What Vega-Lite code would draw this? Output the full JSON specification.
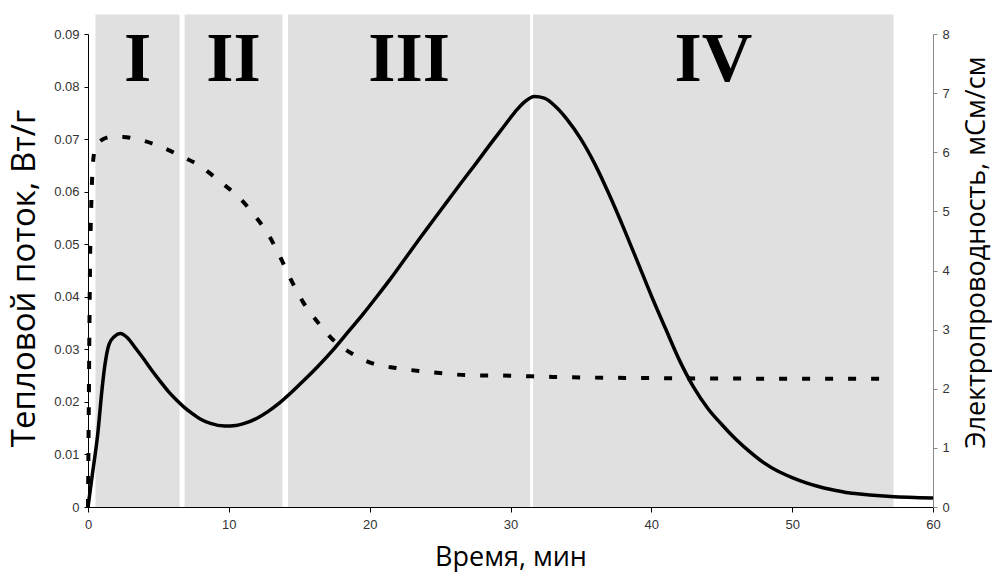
{
  "$schema": "https://vega.github.io/schema/vega-lite/v6.json",
  "width": 845,
  "height": 473,
  "autosize": {"type": "none"},
  "padding": {"left": 88, "top": 34, "right": 59, "bottom": 65},
  "background": "white",
  "config": {
    "view": {"stroke": null},
    "font": "Liberation Sans",
    "axis": {"grid": false, "labelFlush": false, "labelFont": "Liberation Sans", "labelFontSize": 13, "labelColor": "#333333", "titleFont": "Open Sans", "titleFontWeight": "normal", "titleColor": "#000000", "titleFontSize": 28}
  },
  "datasets": {
    "regions": [
      {"start": 0.53, "end": 6.5, "label": "I"},
      {"start": 6.86, "end": 13.8, "label": "II"},
      {"start": 14.2, "end": 31.4, "label": "III"},
      {"start": 31.6, "end": 57.2, "label": "IV"}
    ],
    "heat": [
      {"t": 0, "q": 0}, {"t": 0.3, "q": 0.006}, {"t": 0.7, "q": 0.0141}, {"t": 1.0, "q": 0.0225},
      {"t": 1.2, "q": 0.027}, {"t": 1.5, "q": 0.031}, {"t": 1.9, "q": 0.0325}, {"t": 2.3, "q": 0.033},
      {"t": 2.8, "q": 0.0322}, {"t": 3.3, "q": 0.0305}, {"t": 4.0, "q": 0.028}, {"t": 4.5, "q": 0.0261},
      {"t": 5.1, "q": 0.024}, {"t": 5.7, "q": 0.022}, {"t": 6.3, "q": 0.0203}, {"t": 6.9, "q": 0.0188},
      {"t": 7.5, "q": 0.0176}, {"t": 8.0, "q": 0.0167}, {"t": 8.7, "q": 0.0159}, {"t": 9.7, "q": 0.0154},
      {"t": 10.5, "q": 0.0155}, {"t": 11.1, "q": 0.0159}, {"t": 12.0, "q": 0.0169}, {"t": 12.8, "q": 0.0182},
      {"t": 13.6, "q": 0.0198}, {"t": 14.4, "q": 0.0217}, {"t": 15.3, "q": 0.024}, {"t": 16.3, "q": 0.0267},
      {"t": 17.5, "q": 0.0302}, {"t": 18.5, "q": 0.0334}, {"t": 19.5, "q": 0.0366}, {"t": 20.5, "q": 0.04},
      {"t": 21.5, "q": 0.0435}, {"t": 22.5, "q": 0.0472}, {"t": 23.5, "q": 0.0509}, {"t": 24.5, "q": 0.0545},
      {"t": 25.5, "q": 0.0581}, {"t": 26.5, "q": 0.0617}, {"t": 27.5, "q": 0.0652}, {"t": 28.5, "q": 0.0688},
      {"t": 29.5, "q": 0.0723}, {"t": 30.3, "q": 0.0751}, {"t": 31.0, "q": 0.0771}, {"t": 31.7, "q": 0.0781},
      {"t": 32.4, "q": 0.0778}, {"t": 33.2, "q": 0.0762}, {"t": 34.0, "q": 0.0738}, {"t": 35.0, "q": 0.07},
      {"t": 36.0, "q": 0.0652}, {"t": 37.0, "q": 0.0595}, {"t": 38.0, "q": 0.0533}, {"t": 39.0, "q": 0.0468},
      {"t": 40.0, "q": 0.0402}, {"t": 41.0, "q": 0.034}, {"t": 42.0, "q": 0.0279}, {"t": 43.0, "q": 0.0228},
      {"t": 44.0, "q": 0.0188}, {"t": 45.0, "q": 0.0157}, {"t": 46.0, "q": 0.0129}, {"t": 47.0, "q": 0.0105},
      {"t": 48.0, "q": 0.0084}, {"t": 49.0, "q": 0.0068}, {"t": 50.0, "q": 0.0056}, {"t": 51.0, "q": 0.0046},
      {"t": 52.0, "q": 0.0038}, {"t": 53.0, "q": 0.0032}, {"t": 54.0, "q": 0.0027}, {"t": 55.5, "q": 0.0023},
      {"t": 57.0, "q": 0.002}, {"t": 60.0, "q": 0.0017}
    ],
    "cond": [
      {"t": 0, "c": 0}, {"t": 0.05, "c": 1.5}, {"t": 0.1, "c": 3.0}, {"t": 0.15, "c": 4.2},
      {"t": 0.22, "c": 5.0}, {"t": 0.3, "c": 5.6}, {"t": 0.45, "c": 6.0}, {"t": 0.8, "c": 6.18},
      {"t": 1.65, "c": 6.26}, {"t": 2.5, "c": 6.26}, {"t": 3.3, "c": 6.23}, {"t": 4.9, "c": 6.12},
      {"t": 6.4, "c": 5.96}, {"t": 8.0, "c": 5.76}, {"t": 9.4, "c": 5.5}, {"t": 10.7, "c": 5.24},
      {"t": 11.9, "c": 4.91}, {"t": 12.85, "c": 4.59}, {"t": 13.6, "c": 4.25}, {"t": 14.4, "c": 3.85},
      {"t": 15.26, "c": 3.47}, {"t": 16.2, "c": 3.16}, {"t": 17.3, "c": 2.85}, {"t": 18.7, "c": 2.6},
      {"t": 20.2, "c": 2.43}, {"t": 21.9, "c": 2.35}, {"t": 23.5, "c": 2.3}, {"t": 25.2, "c": 2.26},
      {"t": 26.9, "c": 2.23}, {"t": 30, "c": 2.22}, {"t": 33, "c": 2.2}, {"t": 40, "c": 2.18},
      {"t": 50, "c": 2.17}, {"t": 57, "c": 2.17}
    ]
  },
  "layer": [
    {
      "layer": [
        {
          "data": {"name": "regions"},
          "mark": {"type": "rect", "color": "#e0e0e0"},
          "encoding": {
            "x": {"field": "start", "type": "quantitative", "scale": {"domain": [0, 60], "nice": false}, "title": "Время, мин"},
            "x2": {"field": "end"},
            "y": {"datum": 0, "type": "quantitative", "scale": {"domain": [0, 0.09], "nice": false}},
            "y2": {"datum": 0.0937}
          }
        },
        {
          "data": {"name": "regions"},
          "transform": [{"calculate": "(datum.start + datum.end) / 2", "as": "mid"}],
          "mark": {"type": "text", "font": "Liberation Serif", "fontWeight": "bold", "fontSize": 70, "align": "center", "baseline": "alphabetic", "color": "#000000"},
          "encoding": {
            "x": {"field": "mid", "type": "quantitative", "title": "Время, мин"},
            "y": {"datum": 0.081, "type": "quantitative"},
            "text": {"field": "label"}
          }
        },
        {
          "data": {"name": "heat"},
          "mark": {"type": "line", "color": "#000000", "strokeWidth": 3.5, "interpolate": "monotone"},
          "encoding": {
            "x": {
              "field": "t", "type": "quantitative", "title": "Время, мин",
              "axis": {"values": [0, 10, 20, 30, 40, 50, 60], "domainColor": "#000000", "tickColor": "#000000", "tickSize": 5, "labelPadding": 6, "titleFontSize": 27, "titleBaseline": "alphabetic", "titleY": 58}
            },
            "y": {
              "field": "q", "type": "quantitative", "title": "Тепловой поток, Вт/г",
              "axis": {"values": [0, 0.01, 0.02, 0.03, 0.04, 0.05, 0.06, 0.07, 0.08, 0.09], "format": "~g", "domainColor": "#000000", "tickColor": "#000000", "tickSize": 4, "labelPadding": 5, "titleFontSize": 33, "titleAngle": 270, "titleBaseline": "middle", "titleAlign": "center", "titleX": -64, "titleY": 244}
            }
          }
        }
      ]
    },
    {
      "data": {"name": "cond"},
      "mark": {"type": "line", "color": "#000000", "strokeWidth": 4, "strokeDash": [8, 15], "interpolate": "monotone"},
      "encoding": {
        "x": {"field": "t", "type": "quantitative", "title": "Время, мин"},
        "y": {
          "field": "c", "type": "quantitative", "scale": {"domain": [0, 8], "nice": false}, "title": "Электропроводность, мСм/см",
          "axis": {"orient": "right", "values": [0, 1, 2, 3, 4, 5, 6, 7, 8], "domainColor": "#888888", "tickColor": "#888888", "tickSize": 4, "labelPadding": 5, "titleFontSize": 27, "titleAngle": 270, "titleBaseline": "middle", "titleAlign": "center", "titleX": 43, "titleY": 218}
        }
      }
    }
  ],
  "resolve": {"scale": {"y": "independent"}}
}
